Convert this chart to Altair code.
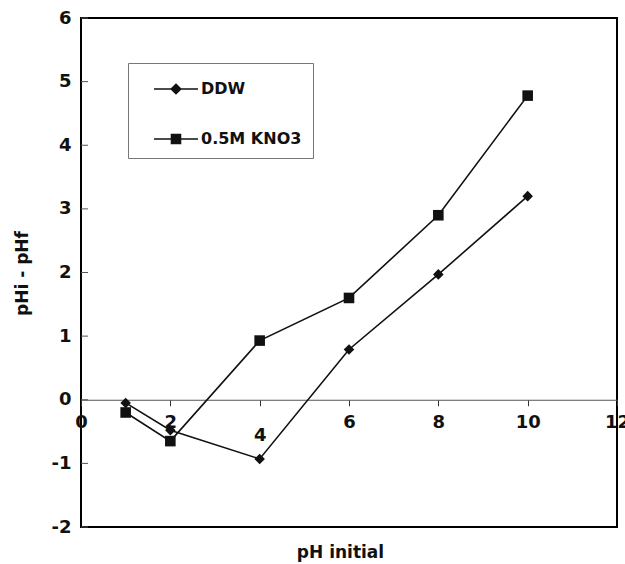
import altair as alt
import pandas as pd

# ---- data ----
ph_initial = [1, 2, 4, 6, 8, 10]
ddw = [-0.05, -0.48, -0.93, 0.79, 1.97, 3.2]
kno3 = [-0.2, -0.65, 0.93, 1.6, 2.9, 4.78]
series_names = ["DDW", "0.5M KNO3"]
x_ticks = [0, 2, 4, 6, 8, 10, 12]
y_ticks = [-2, -1, 0, 1, 2, 3, 4, 5, 6]
x_domain = [0, 12]
y_domain = [-2, 6]

df = pd.DataFrame({
    "x": ph_initial + ph_initial,
    "y": ddw + kno3,
    "series": [series_names[0]] * len(ddw) + [series_names[1]] * len(kno3),
})
df["legend_series"] = df["series"]
df_yt = pd.DataFrame({"v": y_ticks})

W, H = 536, 509
FONT = "DejaVu Sans"
INK = "#111111"

# x axis sits on y = 0
x_axis_offset = -H * (0 - y_domain[0]) / (y_domain[1] - y_domain[0])

xscale = alt.Scale(domain=x_domain, nice=False, zero=False)
yscale = alt.Scale(domain=y_domain, nice=False, zero=False)

x_enc = alt.X(
    "x:Q", scale=xscale,
    axis=alt.Axis(
        values=x_ticks, labelExpr="'' + datum.value", offset=x_axis_offset, title="pH initial",
        grid=False, domainColor="#555555", domainWidth=1,
        tickColor="#333333", tickSize=6, tickWidth=1,
        labelPadding={"condition": {"test": "datum.value == 4", "value": 21}, "value": 8},
        labelFlush=False, labelOverlap=False,
        labelFont=FONT, labelFontSize=18, labelFontWeight="bold", labelColor=INK,
        titleFont=FONT, titleFontSize=17, titleFontWeight="bold", titleColor=INK,
        titleX=259, titleY=153, titleBaseline="middle", titleAlign="center",
    ),
)
y_enc = alt.Y(
    "y:Q", scale=yscale,
    axis=alt.Axis(
        values=y_ticks, labelExpr="'' + datum.value", title="pHi - pHf", grid=False,
        domain=False, ticks=False, tickSize=0, labelPadding=10,
        labelFlush=False, labelOverlap=False,
        labelFont=FONT, labelFontSize=18, labelFontWeight="bold", labelColor=INK,
        titleFont=FONT, titleFontSize=17, titleFontWeight="bold", titleColor=INK,
        titleX=-59, titleY=255, titleAngle=270, titleBaseline="middle", titleAlign="center",
    ),
)

lines = alt.Chart(df).mark_line(color=INK, strokeWidth=1.6).encode(
    x=x_enc, y=y_enc, detail="series:N"
)

points = alt.Chart(df).mark_point(filled=True, size=112, color=INK, opacity=1).encode(
    x=alt.X("x:Q", scale=xscale),
    y=alt.Y("y:Q", scale=yscale),
    shape=alt.Shape("series:N", scale=alt.Scale(domain=series_names, range=["diamond", "square"]), legend=None),
)

# legend glyphs: a short line (thin filled bar) with the series marker on it
legend_paths = [
    "M-1.5,-0.055H1.5V0.055H-1.5ZM-0.4,0L0,-0.4L0.4,0L0,0.4Z",
    "M-1.5,-0.055H1.5V0.055H-1.5ZM-0.36,-0.36H0.36V0.36H-0.36Z",
]
legend_layer = alt.Chart(df).mark_point(opacity=0, filled=True, color=INK).encode(
    x=alt.X("x:Q", scale=xscale),
    y=alt.Y("y:Q", scale=yscale),
    shape=alt.Shape(
        "legend_series:N",
        scale=alt.Scale(domain=series_names, range=legend_paths),
        legend=alt.Legend(
            title=None, orient="none", legendX=47, legendY=45,
            symbolSize=860, symbolOpacity=1, symbolFillColor=INK,
            symbolStrokeWidth=0, symbolOffset=22, labelOffset=10,
            labelFont=FONT, labelFontSize=16, labelFontWeight="bold", labelColor=INK,
            labelExpr="datum.label + '               '",
            rowPadding=27, padding=11, strokeColor="#777777", fillColor="white",
            labelLimit=400,
        ),
    ),
)

yticks = alt.Chart(df_yt).mark_rule(color="#555555", strokeWidth=1).encode(
    y=alt.Y("v:Q", scale=yscale), x=alt.value(0), x2=alt.value(7)
)

chart = (
    alt.layer(yticks, lines, points, legend_layer)
    .resolve_scale(shape="independent")
    .properties(
        width=W, height=H,
        autosize=alt.AutoSizeParams(type="none"),
        padding={"left": 81, "top": 18, "right": 8, "bottom": 37},
        background="white",
    )
    .configure_view(stroke="black", strokeWidth=2)
)

chart.save("out.html", embed_options={"renderer": "svg", "actions": False})
